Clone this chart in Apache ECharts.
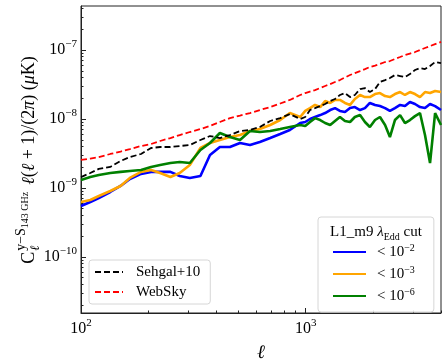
<!DOCTYPE html>
<html>
<head>
<meta charset="utf-8">
<script src="https://cdn.jsdelivr.net/npm/echarts@6/dist/echarts.min.js"></script>
<style>
  html, body { margin: 0; padding: 0; background: #fff; }
  #chart { width: 448px; height: 364px; }
</style>
</head>
<body>
<div id="chart"></div>
<script>
// multipole values (shared by all curves)
const ell = [100, 110, 120, 135, 150, 165, 185, 205, 225, 250, 275, 305, 340, 375, 415, 460, 510, 565, 625, 695, 770, 850, 945,
  995, 1045, 1100, 1160, 1220, 1285, 1350, 1420, 1495, 1575, 1655, 1745, 1835, 1930, 2035, 2140, 2255, 2370, 2495, 2630,
  2765, 2910, 3065, 3225, 3395, 3575, 3765, 4000];

// WebSky (red dashed)
const webSky = [2.55e-9, 2.67e-9, 2.81e-9, 3.11e-9, 3.38e-9, 3.67e-9, 4.06e-9, 4.34e-9, 4.8e-9, 5.3e-9, 5.86e-9, 6.48e-9, 7.16e-9,
  7.92e-9, 9.05e-9, 1.03e-8, 1.12e-8, 1.22e-8, 1.35e-8, 1.49e-8, 1.68e-8, 1.89e-8, 2.23e-8,
  2.38e-8, 2.5e-8, 2.63e-8, 2.81e-8, 3.01e-8, 3.2e-8, 3.44e-8, 3.67e-8, 4.0e-8, 4.34e-8, 4.64e-8, 4.96e-8, 5.3e-8, 5.67e-8,
  5.96e-8, 6.27e-8, 6.7e-8, 6.93e-8, 7.41e-8, 7.92e-8, 8.46e-8, 8.9e-8, 9.36e-8, 1.0e-7, 1.07e-7, 1.14e-7, 1.22e-7, 1.31e-7];

// Sehgal+10 (black dashed)
const sehgal = [1.44e-9, 1.65e-9, 1.89e-9, 2.02e-9, 2.46e-9, 2.81e-9, 3.11e-9, 3.8e-9, 3.93e-9, 3.93e-9, 4.06e-9, 4.2e-9, 4.96e-9,
  5.67e-9, 5.3e-9, 5.86e-9, 6.7e-9, 6.93e-9, 7.66e-9, 9.36e-9, 1.03e-8, 1.18e-8, 1.0e-8,
  1.07e-8, 1.35e-8, 1.44e-8, 1.54e-8, 1.65e-8, 1.82e-8, 1.95e-8, 2.23e-8, 2.38e-8, 2.08e-8, 2.23e-8, 2.72e-8, 2.81e-8, 2.46e-8,
  2.72e-8, 3.44e-8, 3.67e-8, 3.93e-8, 4.34e-8, 4.2e-8, 4.06e-8, 4.49e-8, 5.13e-8, 5.48e-8, 5.3e-8, 5.86e-8, 6.7e-8, 6.48e-8];

// L1_m9 lambda_Edd cuts
const cut2 = [5.48e-10, 6.27e-10, 7.16e-10, 8.75e-10, 1.07e-9, 1.35e-9, 1.6e-9, 1.71e-9, 1.71e-9, 1.71e-9, 1.49e-9, 1.4e-9, 1.49e-9,
  3.01e-9, 3.93e-9, 3.93e-9, 4.49e-9, 4.2e-9, 4.64e-9, 5.3e-9, 6.06e-9, 6.93e-9, 8.75e-9,
  9.05e-9, 1.0e-8, 1.07e-8, 1.14e-8, 1.22e-8, 1.35e-8, 1.44e-8, 1.31e-8, 1.26e-8, 1.44e-8, 1.49e-8, 1.35e-8, 1.44e-8, 1.71e-8,
  1.6e-8, 1.54e-8, 1.44e-8, 1.31e-8, 1.44e-8, 1.6e-8, 1.54e-8, 1.76e-8, 1.65e-8, 1.49e-8, 1.44e-8, 1.65e-8, 1.54e-8, 1.35e-8];

const cut3 = [6.27e-10, 6.7e-10, 7.66e-10, 9.05e-10, 1.07e-9, 1.4e-9, 1.71e-9, 1.82e-9, 1.65e-9, 1.44e-9, 1.65e-9, 2.15e-9, 3.8e-9,
  4.49e-9, 4.96e-9, 5.48e-9, 5.86e-9, 6.7e-9, 7.16e-9, 8.18e-9, 9.67e-9, 1.22e-8, 1.07e-8,
  1.31e-8, 1.44e-8, 1.6e-8, 1.49e-8, 1.82e-8, 1.71e-8, 1.89e-8, 1.89e-8, 1.71e-8, 1.6e-8, 1.95e-8, 2.23e-8, 2.08e-8, 2.08e-8,
  2.3e-8, 2.38e-8, 2.15e-8, 2.08e-8, 2.3e-8, 2.46e-8, 2.23e-8, 2.46e-8, 2.3e-8, 2.08e-8, 2.46e-8, 2.38e-8, 2.55e-8, 2.46e-8];

const cut6 = [1.31e-9, 1.44e-9, 1.54e-9, 1.65e-9, 1.71e-9, 1.76e-9, 1.82e-9, 2.02e-9, 2.15e-9, 2.3e-9, 2.38e-9, 2.3e-9, 3.55e-9,
  4.49e-9, 6.27e-9, 5.48e-9, 4.96e-9, 6.7e-9, 6.48e-9, 6.7e-9, 7.16e-9, 7.66e-9, 8.18e-9,
  7.92e-9, 9.05e-9, 1.03e-8, 9.67e-9, 8.75e-9, 8.18e-9, 9.36e-9, 1.07e-8, 9.36e-9, 9.05e-9, 1.07e-8, 1.14e-8, 9.05e-9, 7.66e-9,
  9.67e-9, 1.07e-8, 8.18e-9, 5.48e-9, 9.67e-9, 1.14e-8, 8.75e-9, 9.67e-9, 1.1e-8, 1.22e-8, 5.86e-9, 2.3e-9, 1.22e-8, 8.18e-9];

// ticks
const xMajor = [100, 1000];
const xMinor = [200, 300, 400, 500, 600, 700, 800, 900, 2000, 3000, 4000];
const yMajor = [1e-10, 1e-9, 1e-8, 1e-7];
const yMinor = [2e-11, 3e-11, 4e-11, 5e-11, 6e-11, 7e-11, 8e-11, 9e-11,
  2e-10, 3e-10, 4e-10, 5e-10, 6e-10, 7e-10, 8e-10, 9e-10,
  2e-9, 3e-9, 4e-9, 5e-9, 6e-9, 7e-9, 8e-9, 9e-9,
  2e-8, 3e-8, 4e-8, 5e-8, 6e-8, 7e-8, 8e-8, 9e-8,
  2e-7, 3e-7, 4e-7];

const serif = "'Liberation Serif', 'DejaVu Serif', serif";
const pairs = arr => ell.map((l, i) => [l, arr[i]]);

const supRich = {
  b: { fontFamily: serif, fontSize: 16, color: '#000', lineHeight: 22 },
  s: { fontFamily: serif, fontSize: 11, color: '#000', lineHeight: 11, verticalAlign: 'top' }
};
const powLabel = v => {
  const e = Math.round(Math.log10(v));
  return '{b|10}{s|' + (e < 0 ? '\u2212' + (-e) : e) + '}';
};

// measure text for the rotated y label
const ctx = document.createElement('canvas').getContext('2d');
const measure = (font, txt) => { ctx.font = font; return ctx.measureText(txt).width; };

const fC = '18px ' + serif, fSup = '14px ' + serif, fSS = '10px ' + serif, fSub = 'italic 13px ' + serif;
const fMain = '18px ' + serif, fMainI = 'italic 18px ' + serif;
// main part of the label: [text, italic]
const mainParts = [['ℓ', 1], ['(', 0], ['ℓ', 1], [' + 1)/(2', 0], ['π', 1], [') (', 0], ['μ', 1], ['K)', 0]];
const wC = measure(fC, 'C');
const wSup = measure(fSup, 'y\u2212S');
const wSS = measure(fSS, '143 GHz');
const mainW = mainParts.map(p => measure(p[1] ? fMainI : fMain, p[0]));
const wMain = mainW.reduce((a, b) => a + b, 0);
const gap = 7;
const totalLen = wC + 1 + wSup + wSS + gap + wMain;
const x0 = -totalLen / 2;

const labelChildren = [
  { type: 'text', x: x0, y: 0, style: { text: 'C', font: fC, fill: '#000', verticalAlign: 'middle' } },
  { type: 'text', x: x0 + wC + 1, y: -8, style: { text: 'y\u2212S', font: fSup, fill: '#000', verticalAlign: 'middle' } },
  { type: 'text', x: x0 + wC + 1 + wSup, y: -4, style: { text: '143 GHz', font: fSS, fill: '#000', verticalAlign: 'middle' } },
  { type: 'text', x: x0 + wC + 1, y: 7, style: { text: 'ℓ', font: fSub, fill: '#000', verticalAlign: 'middle' } }
];
let mx = x0 + wC + 1 + wSup + wSS + gap;
mainParts.forEach((p, i) => {
  labelChildren.push({ type: 'text', x: mx, y: 0, style: { text: p[0], font: p[1] ? fMainI : fMain, fill: '#000', verticalAlign: 'middle' } });
  mx += mainW[i];
});

const yLabel = { type: 'group', x: 29, y: 160, rotation: Math.PI / 2, z: 100, children: labelChildren };

const chart = echarts.init(document.getElementById('chart'));

const legendBase = {
  orient: 'vertical', itemHeight: 10, itemGap: 4,
  borderColor: '#d6d6d6', borderWidth: 1, borderRadius: 3, backgroundColor: 'rgba(255,255,255,0.85)',
  itemStyle: { opacity: 0 }
};

const option = {
  animation: false,
  backgroundColor: '#fff',
  grid: { left: 81, right: 7, top: 6, bottom: 51, show: true, borderColor: '#222', borderWidth: 1, containLabel: false, outerBoundsMode: 'none' },
  xAxis: [
    {
      type: 'log', logBase: 10, min: 100, max: 4000,
      name: 'ℓ', nameLocation: 'middle', nameGap: 30,
      nameTextStyle: { fontFamily: serif, fontSize: 19, fontStyle: 'italic', color: '#000' },
      axisLine: { lineStyle: { color: '#222', width: 1 } },
      axisTick: { inside: true, length: 5, customValues: xMajor, lineStyle: { color: '#222' } },
      axisLabel: { customValues: xMajor, formatter: powLabel, rich: supRich, margin: 5 },
      splitLine: { show: false }, minorTick: { show: false }
    },
    {
      type: 'log', logBase: 10, min: 100, max: 4000, position: 'bottom',
      axisLine: { show: false },
      axisTick: { inside: true, length: 2.5, customValues: xMinor, lineStyle: { color: '#222' } },
      axisLabel: { show: false }, splitLine: { show: false }
    }
  ],
  yAxis: [
    {
      type: 'log', logBase: 10, min: 1.54e-11, max: 4.35e-7,
      axisLine: { show: true, lineStyle: { color: '#222', width: 1 } },
      axisTick: { show: true, inside: true, length: 5, customValues: yMajor, lineStyle: { color: '#222' } },
      axisLabel: { customValues: yMajor, formatter: powLabel, rich: supRich, margin: 4 },
      splitLine: { show: false }, minorTick: { show: false }
    },
    {
      type: 'log', logBase: 10, min: 1.54e-11, max: 4.35e-7, position: 'left',
      axisLine: { show: false },
      axisTick: { show: true, inside: true, length: 2.5, customValues: yMinor, lineStyle: { color: '#222' } },
      axisLabel: { show: false }, splitLine: { show: false }
    }
  ],
  legend: [
    Object.assign({}, legendBase, {
      data: ['Sehgal+10', 'WebSky'], left: 89, top: 260,
      padding: [4, 10, 4, 5], itemWidth: 28,
      textStyle: { fontFamily: serif, fontSize: 15, lineHeight: 16, color: '#000', padding: [0, 0, 0, 8] }
    }),
    Object.assign({}, legendBase, {
      data: ['cut2', 'cut3', 'cut6'], left: 318, top: 217,
      padding: [26, 19, 7, 14], itemWidth: 33,
      formatter: n => '< {b|10}{s|\u2212' + n.slice(3) + '}',
      textStyle: {
        fontFamily: serif, fontSize: 15, lineHeight: 16, color: '#000', padding: [0, 0, 0, 6],
        rich: {
          b: { fontFamily: serif, fontSize: 15, color: '#000', lineHeight: 18 },
          s: { fontFamily: serif, fontSize: 10, color: '#000', lineHeight: 10, verticalAlign: 'top' }
        }
      }
    })
  ],
  graphic: [
    yLabel,
    {
      type: 'text', x: 376, y: 232, z: 100,
      style: {
        text: 'L1_m9 {l|λ}{e|Edd} cut', font: '15px ' + serif, fill: '#000', align: 'center', verticalAlign: 'middle',
        rich: {
          l: { fontFamily: serif, fontSize: 15, fontStyle: 'italic', lineHeight: 20 },
          e: { fontFamily: serif, fontSize: 10, lineHeight: 10, verticalAlign: 'bottom' }
        }
      }
    }
  ],
  series: [
    { name: 'cut2', type: 'line', data: pairs(cut2), symbol: 'none', color: '#0000ff', lineStyle: { color: '#0000ff', width: 2.6 } },
    { name: 'cut3', type: 'line', data: pairs(cut3), symbol: 'none', color: '#ffa500', lineStyle: { color: '#ffa500', width: 2.6 } },
    { name: 'cut6', type: 'line', data: pairs(cut6), symbol: 'none', color: '#008000', lineStyle: { color: '#008000', width: 2.6 } },
    { name: 'Sehgal+10', type: 'line', data: pairs(sehgal), symbol: 'none', color: '#000', lineStyle: { color: '#000', width: 1.8, type: [6, 3] } },
    { name: 'WebSky', type: 'line', data: pairs(webSky), symbol: 'none', color: '#ff0000', lineStyle: { color: '#ff0000', width: 1.8, type: [6, 3] } }
  ]
};

chart.setOption(option);
</script>
</body>
</html>
